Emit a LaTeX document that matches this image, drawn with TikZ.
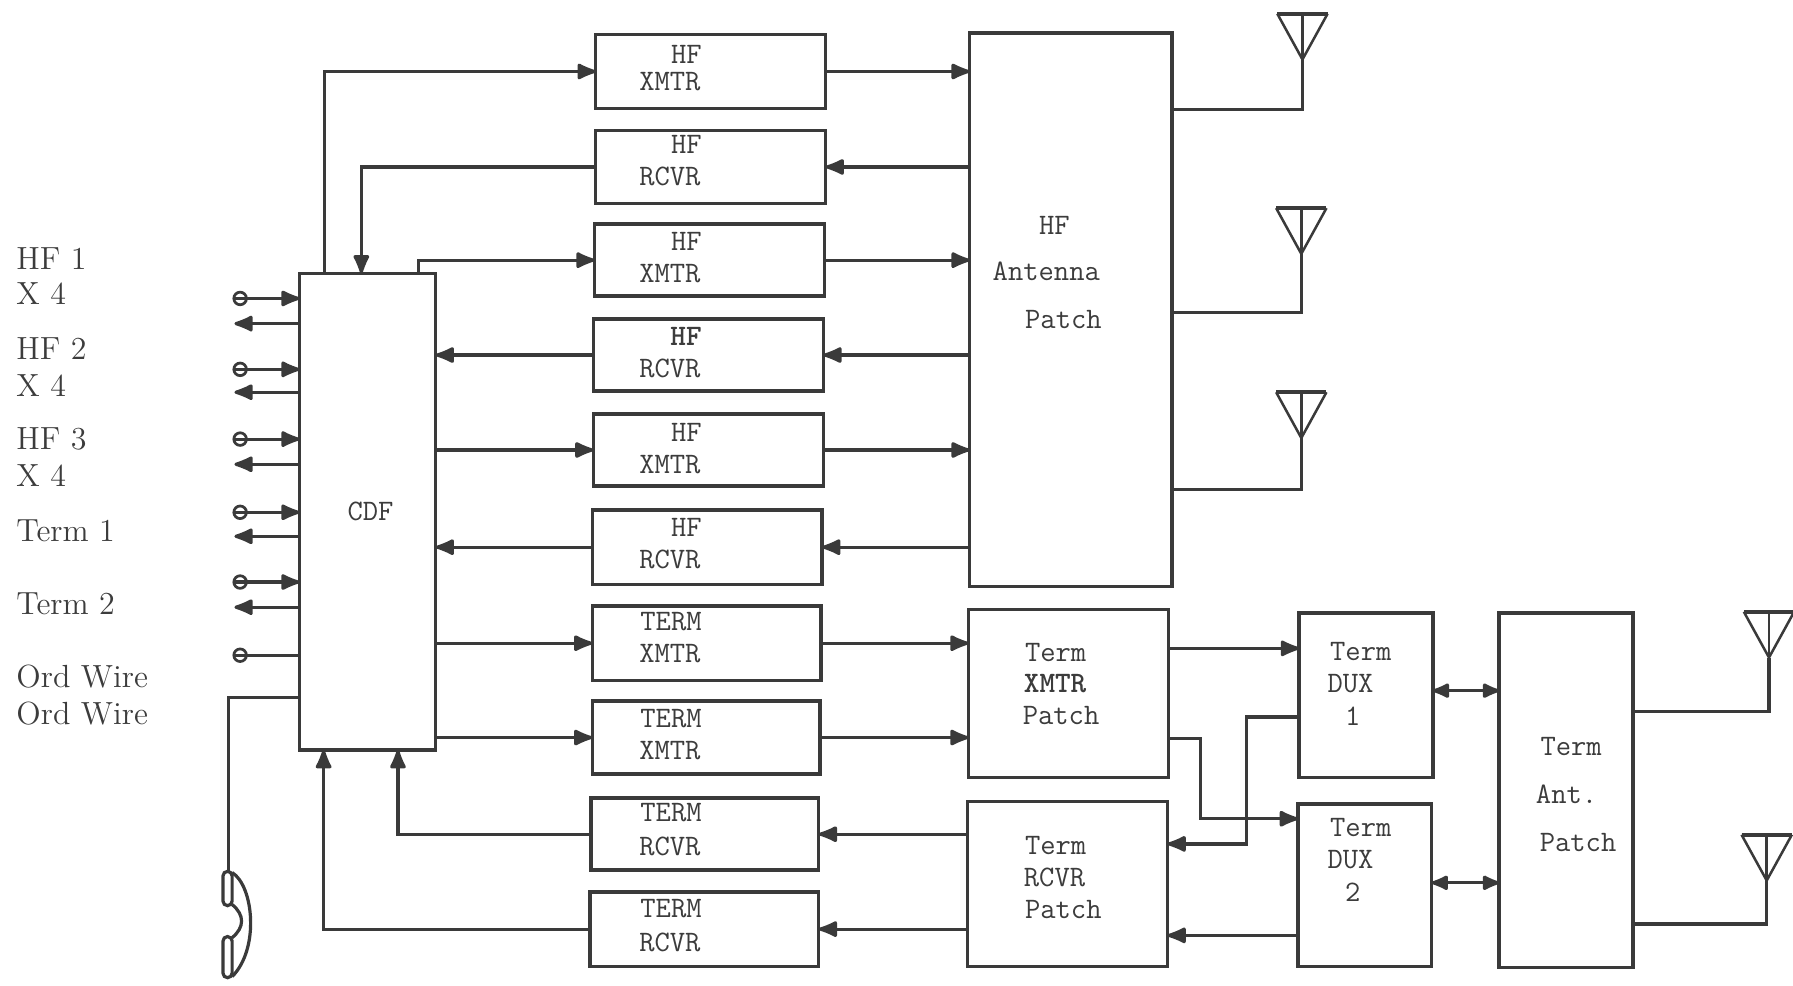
\documentclass[tikz,border=0pt]{standalone}
\usetikzlibrary{calc,arrows.meta}
\definecolor{ink}{HTML}{3A3A3A}
\definecolor{txtc}{HTML}{3C3C3C}
\begin{document}
\begin{tikzpicture}[x=0.5pt,y=-0.5pt,
  wire/.style={draw=ink,line width=1.4pt},
  arr/.style={wire,-{Latex[length=10pt,width=8pt,round]}},
  darr/.style={wire,{Latex[length=9pt,width=7.5pt,round]}-{Latex[length=9pt,width=7.5pt,round]}},
  blk/.style={draw=ink,line width=1.5pt,inner sep=0pt,outer sep=0pt,rectangle},
  tt/.style={font=\ttfamily\fontsize{13pt}{14pt}\selectfont,text=txtc,inner sep=0pt},
  lbl/.style={font=\fontsize{14pt}{16pt}\selectfont,text=txtc,inner sep=0pt,anchor=west},
  termc/.style={circle,draw=ink,line width=1.2pt,minimum size=5.5pt,inner sep=0pt,outer sep=0pt},
  antl/.style={draw=ink,line width=1.1pt},
  antenna/.pic={\draw[antl] (22,-40) -- (0,0) -- (-22,-40); \draw[draw=ink,line width=1.8pt] (-22,-40) -- (22,-40); \draw[antl] (0,-40) -- (0,0);},
]
\useasboundingbox (0,0) rectangle (1568,862);

% ---------- blocks ----------
\node[blk,minimum width=59.5pt,minimum height=208.5pt] (cdf) at (321.5,447.5) {};
\node[tt] (cdft) at (324,447) {CDF};

\node[blk,minimum width=100.5pt,minimum height=32.5pt] (x1) at (621.5,62.5) {};
\node[blk,minimum width=100.5pt,minimum height=32pt]   (r1) at (621.5,146) {};
\node[blk,minimum width=100.5pt,minimum height=31.5pt] (x2) at (620.5,227.5) {};
\node[blk,minimum width=100.5pt,minimum height=31.5pt] (r2) at (619.5,310.5) {};
\node[blk,minimum width=100.5pt,minimum height=31.5pt] (x3) at (619.5,393.5) {};
\node[blk,minimum width=100.5pt,minimum height=32.5pt] (r3) at (618.5,478.5) {};
\node[blk,minimum width=100pt,minimum height=32.5pt]   (tx1) at (618,562.5) {};
\node[blk,minimum width=99.5pt,minimum height=32pt]    (tx2) at (617.5,645) {};
\node[blk,minimum width=99.5pt,minimum height=31.5pt]  (tr1) at (616.5,729.5) {};
\node[blk,minimum width=100pt,minimum height=32.5pt]   (tr2) at (616,812.5) {};

\node[blk,minimum width=88.5pt,minimum height=242pt]  (hp)  at (936.5,271) {};
\node[blk,minimum width=87.5pt,minimum height=73.5pt] (txp) at (934.5,606.5) {};
\node[blk,minimum width=87.5pt,minimum height=72pt]   (trp) at (933.5,773) {};
\node[blk,minimum width=58.5pt,minimum height=72pt]   (d1)  at (1194.5,608) {};
\node[blk,minimum width=58.5pt,minimum height=71pt]   (d2)  at (1193.5,774) {};
\node[blk,minimum width=58.5pt,minimum height=155pt]  (tap) at (1369.5,691) {};

% ---------- block texts ----------
\node[tt,anchor=east] (x1a) at (614,48) {HF};   \node[tt,anchor=east] (x1b) at (613,71) {XMTR};
\node[tt,anchor=east] (r1a) at (614,126) {HF};  \node[tt,anchor=east] (r1b) at (613,154) {RCVR};
\node[tt,anchor=east] (x2a) at (614,211) {HF};  \node[tt,anchor=east] (x2b) at (613,239) {XMTR};
\node[tt,anchor=east] (r2a) at (614,294) {\bfseries HF}; \node[tt,anchor=east] (r2b) at (613,322) {RCVR};
\node[tt,anchor=east] (x3a) at (614,378) {HF};  \node[tt,anchor=east] (x3b) at (613,406) {XMTR};
\node[tt,anchor=east] (r3a) at (614,461) {HF};  \node[tt,anchor=east] (r3b) at (613,489) {RCVR};
\node[tt,anchor=east] (t1a) at (614,544) {TERM}; \node[tt,anchor=east] (t1b) at (613,572) {XMTR};
\node[tt,anchor=east] (t2a) at (614,628) {TERM}; \node[tt,anchor=east] (t2b) at (613,656) {XMTR};
\node[tt,anchor=east] (t3a) at (614,711) {TERM}; \node[tt,anchor=east] (t3b) at (613,740) {RCVR};
\node[tt,anchor=east] (t4a) at (614,795) {TERM}; \node[tt,anchor=east] (t4b) at (613,824) {RCVR};

\node[tt] (hpa) at (922,197) {HF};
\node[tt] (hpb) at (915,237) {Antenna};
\node[tt] (hpc) at (930,279) {Patch};
\node[tt,anchor=west] (txa) at (896,571) {Term};
\node[tt,anchor=west] (txb) at (895,598) {\bfseries XMTR};
\node[tt,anchor=west] (txc) at (894,626) {Patch};
\node[tt,anchor=west] (tra) at (896,739) {Term};
\node[tt,anchor=west] (trb) at (895,767) {RCVR};
\node[tt,anchor=west] (trc) at (896,795) {Patch};
\node[tt] (d1a) at (1190,570) {Term};
\node[tt] (d1b) at (1181,598) {DUX};
\node[tt] (d1c) at (1183,626) {1};
\node[tt] (d2a) at (1190,724) {Term};
\node[tt] (d2b) at (1181,752) {DUX};
\node[tt] (d2c) at (1183,780) {2};
\node[tt] (tpa) at (1374,653) {Term};
\node[tt] (tpb) at (1370,695) {Ant.};
\node[tt] (tpc) at (1380,737) {Patch};

% ---------- left labels ----------
\node[lbl] (l1) at (14,226) {HF 1};
\node[lbl] (l2) at (14,257) {X 4};
\node[lbl] (l3) at (14,305) {HF 2};
\node[lbl] (l4) at (14,337) {X 4};
\node[lbl] (l5) at (14,384) {HF 3};
\node[lbl] (l6) at (14,416) {X 4};
\node[lbl] (l7) at (14,464) {Term 1};
\node[lbl] (l8) at (14,528) {Term 2};
\node[lbl] (l9) at (14,592) {Ord Wire};
\node[lbl] (l10) at (14,624) {Ord Wire};

% ---------- left terminals ----------
\foreach \n/\y in {c1/261,c2/323,c3/384,c4/448,c5/509,c6/573}{
  \node[termc] (\n) at (210,\y) {};
}
\foreach \n in {c1,c2,c3,c4,c5}{
  \draw[arr] (\n.west) -- (\n.west -| cdf.west);
}
\draw[wire] (c6.west) -- (c6.west -| cdf.west);
\foreach \n/\y in {o1/283,o2/343,o3/406,o4/469,o5/531}{
  \coordinate (\n) at (205,\y);
  \draw[arr] (\n -| cdf.west) -- (\n);
}

% ---------- handset ----------
\coordinate (hs) at (200,762);
\draw[wire] ($(cdf.north west)+(0,371)$) -| (hs);
\draw[wire,rounded corners=2pt] (195,762) rectangle (203,792);
\draw[wire,rounded corners=2pt] (195,819) rectangle (203,855);
\draw[wire] (203,763) .. controls (222,775) and (227,830) .. (203,854);
\draw[wire] (203,791) .. controls (214,800) and (214,811) .. (203,820);

% ---------- CDF to equipment ----------
\draw[arr] ($(cdf.north west)+(22,0)$) |- (x1.west);
\draw[arr] (r1.west) -| ($(cdf.north west)+(54,0)$);
\draw[arr] ($(cdf.north west)+(104,0)$) |- (x2.west);
\draw[arr] (r2.west) -- (r2.west -| cdf.east);
\draw[arr] (x3.west -| cdf.east) -- (x3.west);
\draw[arr] (r3.west) -- (r3.west -| cdf.east);
\draw[arr] (tx1.west -| cdf.east) -- (tx1.west);
\draw[arr] (tx2.west -| cdf.east) -- (tx2.west);
\draw[arr] (tr1.west) -| ($(cdf.south west)+(86,0)$);
\draw[arr] (tr2.west) -| ($(cdf.south west)+(21,0)$);

% ---------- equipment to patches ----------
\draw[arr] (x1.east) -- (x1.east -| hp.west);
\draw[arr] (r1.east -| hp.west) -- (r1.east);
\draw[arr] (x2.east) -- (x2.east -| hp.west);
\draw[arr] (r2.east -| hp.west) -- (r2.east);
\draw[arr] (x3.east) -- (x3.east -| hp.west);
\draw[arr] (r3.east -| hp.west) -- (r3.east);
\draw[arr] (tx1.east) -- (tx1.east -| txp.west);
\draw[arr] (tx2.east) -- (tx2.east -| txp.west);
\draw[arr] (tr1.east -| trp.west) -- (tr1.east);
\draw[arr] (tr2.east -| trp.west) -- (tr2.east);

% ---------- patches to duplexers ----------
\draw[arr] ($(txp.north east)+(0,34)$) -- ($(d1.north west)+(0,31)$);
\draw[arr] ($(txp.north east)+(0,113)$) -| ($(d2.north west)+(-85,13)$) -- ($(d2.north west)+(0,13)$);
\draw[arr] ($(d1.north west)+(0,91)$) -| ($(trp.north east)+(69,37)$) -- ($(trp.north east)+(0,37)$);
\draw[arr] ($(d2.north west)+(0,115)$) -- ($(trp.north east)+(0,117)$);
\draw[darr] ($(d1.north east)+(0,68)$) -- ($(tap.north west)+(0,68)$);
\draw[darr] ($(d2.north east)+(0,69)$) -- ($(tap.north west)+(0,236)$);

% ---------- antennas ----------
\coordinate (a1) at (1139,52);
\coordinate (a2) at (1138,222);
\coordinate (a3) at (1138,383);
\coordinate (a4) at (1547,575);
\coordinate (a5) at (1545,770);
\foreach \a in {a1,a2,a3,a4,a5}{ \pic at (\a) {antenna}; }
\draw[wire] ($(hp.north east)+(0,67)$) -| (a1);
\draw[wire] ($(hp.north east)+(0,244)$) -| (a2);
\draw[wire] ($(hp.north east)+(0,399)$) -| (a3);
\draw[wire] ($(tap.north east)+(0,86)$) -| (a4);
\draw[wire] ($(tap.north east)+(0,272)$) -| (a5);
\end{tikzpicture}
\end{document}
